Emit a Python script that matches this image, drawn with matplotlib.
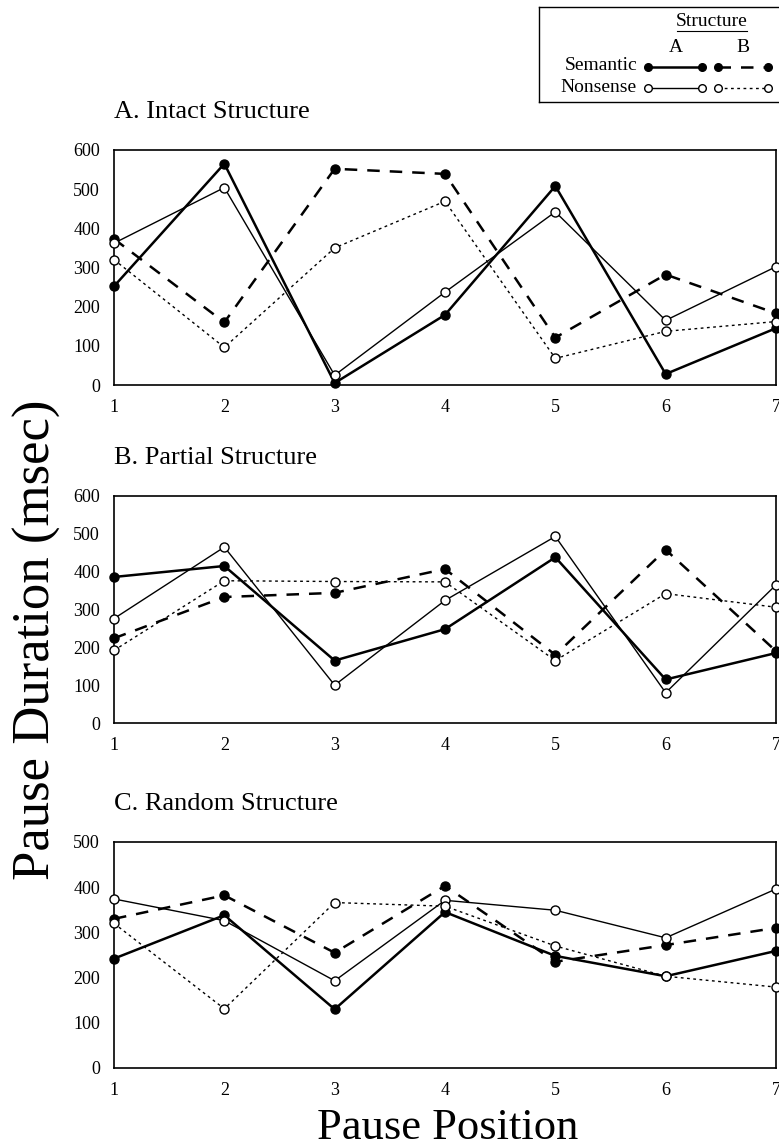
import matplotlib
matplotlib.use("Agg")
import matplotlib.pyplot as plt
from matplotlib.lines import Line2D

plt.rcParams["font.family"] = ["Liberation Serif", "DejaVu Serif"]

positions = [1, 2, 3, 4, 5, 6, 7]

# A. Intact structure
intact_sem_a = [252, 565, 5, 179, 508, 28, 145]
intact_sem_b = [373, 160, 552, 539, 121, 282, 183]
intact_non_a = [362, 504, 25, 237, 442, 165, 302]
intact_non_b = [320, 96, 350, 469, 68, 137, 162]

# B. Partial structure
partial_sem_a = [386, 415, 165, 248, 438, 115, 185]
partial_sem_b = [224, 333, 344, 407, 180, 458, 190]
partial_non_a = [276, 465, 100, 324, 493, 80, 365]
partial_non_b = [192, 376, 374, 373, 165, 342, 306]

# C. Random structure
random_sem_a = [242, 338, 130, 345, 248, 203, 259]
random_sem_b = [330, 382, 255, 403, 235, 272, 310]
random_non_a = [374, 326, 193, 371, 349, 288, 396]
random_non_b = [320, 131, 366, 358, 270, 203, 179]

panels = [
    ("A. Intact Structure", [intact_sem_a, intact_sem_b, intact_non_a, intact_non_b], 600),
    ("B. Partial Structure", [partial_sem_a, partial_sem_b, partial_non_a, partial_non_b], 600),
    ("C. Random Structure", [random_sem_a, random_sem_b, random_non_a, random_non_b], 500),
]

W, H = 779, 1148
fig = plt.figure(figsize=(W / 100, H / 100), dpi=100)

# pixel boxes (top, bottom) of each panel
boxes = [(150, 385), (496, 723), (842, 1068)]
left_px, right_px = 114, 776

styles = [
    dict(color="black", lw=1.8, ls="-", marker="o", ms=6.5, mfc="black", mec="black"),
    dict(color="black", lw=1.8, ls=(0, (5, 4)), marker="o", ms=6.5, mfc="black", mec="black"),
    dict(color="black", lw=1.0, ls="-", marker="o", ms=6.5, mfc="white", mec="black", mew=1.0),
    dict(color="black", lw=1.0, ls=(0, (2, 2.5)), marker="o", ms=6.5, mfc="white", mec="black", mew=1.0),
]
order = [3, 2, 1, 0]

for (title, series, ymax), (top, bot) in zip(panels, boxes):
    ax = fig.add_axes([left_px / W, 1 - bot / H, (right_px - left_px) / W, (bot - top) / H])
    for i in order:
        ax.plot(positions, series[i], clip_on=False, zorder=3 + i, **styles[i])
    ax.set_xlim(1, 7)
    ax.set_ylim(0, ymax)
    ax.set_xticks(positions)
    ax.set_yticks(range(0, ymax + 1, 100))
    ax.tick_params(length=0, labelsize=13, pad=10)
    for s in ax.spines.values():
        s.set_linewidth(1.2)
    fig.text(left_px / W, 1 - (top - 38) / H, title, fontsize=19, ha="left", va="center")

fig.text(37 / W, 1 - 640 / H, "Pause Duration (msec)", fontsize=38, rotation=90,
         ha="center", va="center")
fig.text(448 / W, 1 - 1128 / H, "Pause Position", fontsize=32, ha="center", va="center")

# legend box
lx0, lx1, ly0, ly1 = 539, 790, 7, 102
lax = fig.add_axes([lx0 / W, 1 - ly1 / H, (lx1 - lx0) / W, (ly1 - ly0) / H])
lax.set_xlim(lx0, lx1)
lax.set_ylim(ly1, ly0)
lax.set_xticks([])
lax.set_yticks([])
for s in lax.spines.values():
    s.set_linewidth(1.0)
lax.text(712, 22, "Structure", fontsize=14, ha="center", va="center")
lax.plot([677, 747], [31, 31], color="black", lw=0.8)
lax.text(676, 47, "A", fontsize=14, ha="center", va="center")
lax.text(743, 47, "B", fontsize=14, ha="center", va="center")
lax.text(637, 66, "Semantic", fontsize=14, ha="right", va="center")
lax.text(637, 87, "Nonsense", fontsize=14, ha="right", va="center")
for i, (y, xs) in enumerate([(67, (648, 702)), (67, (718, 768)), (88, (648, 702)), (88, (718, 768))]):
    st = dict(styles[i])
    st["ms"] = 5.5
    lax.add_line(Line2D(list(xs), [y, y], **st))

fig.savefig("out.png", dpi=100)
